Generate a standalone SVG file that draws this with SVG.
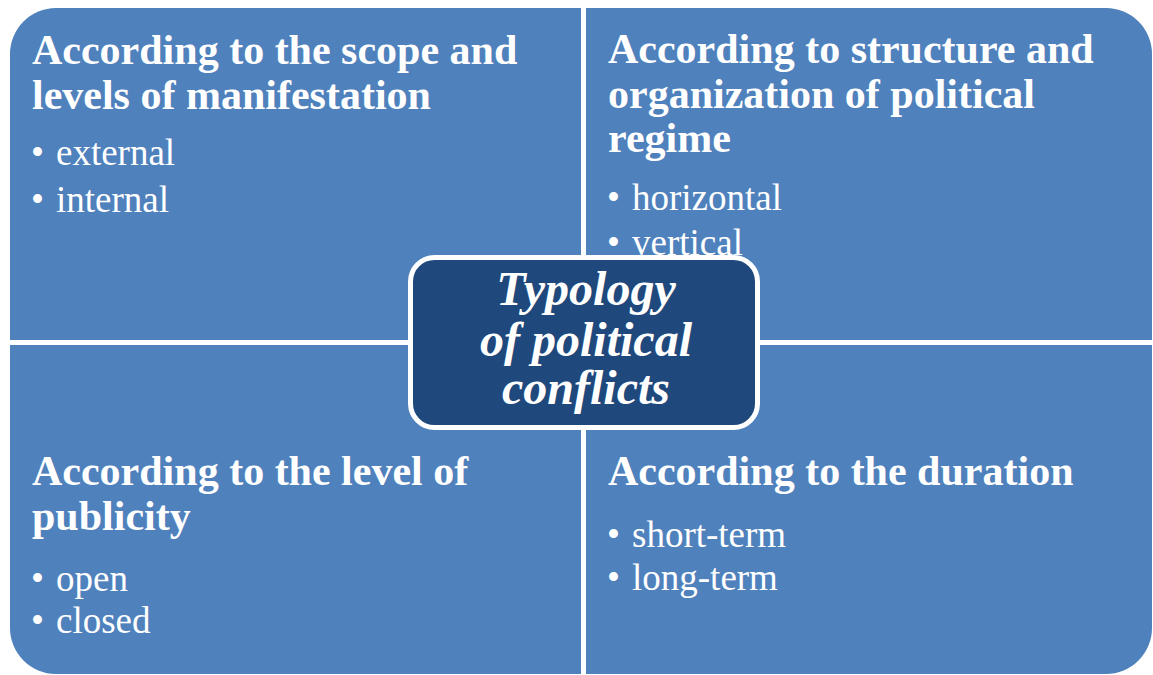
<svg xmlns="http://www.w3.org/2000/svg" width="1153" height="675" viewBox="0 0 1153 675">
<style>
.q{fill:#4F81BD}
.h{font-family:"Liberation Serif","Times New Roman",serif;font-weight:bold;font-size:42px;fill:#fff}
.b{font-family:"Liberation Serif","Times New Roman",serif;font-size:37px;fill:#fff}
.c{font-family:"Liberation Serif","Times New Roman",serif;font-weight:bold;font-style:italic;font-size:48px;fill:#fff;text-anchor:middle}
</style>
<rect width="1153" height="675" fill="#fff"/>
<g id="q-scope">
<path class="q" d="M10 340 V54 A46 46 0 0 1 56 8 H581 V340 Z"/>
<text class="h" x="32" y="64">According to the scope and</text>
<text class="h" x="32" y="109">levels of manifestation</text>
<text class="b" x="31" y="165">•</text><text class="b" x="56" y="165">external</text>
<text class="b" x="31" y="212">•</text><text class="b" x="56" y="212">internal</text>
</g>
<g id="q-structure">
<path class="q" d="M586 8 H1106 A46 46 0 0 1 1152 54 V340 H586 Z"/>
<text class="h" x="608" y="63">According to structure and</text>
<text class="h" x="608" y="108">organization of political</text>
<text class="h" x="608" y="152">regime</text>
<text class="b" x="607" y="210">•</text><text class="b" x="632" y="210">horizontal</text>
<text class="b" x="607" y="255">•</text><text class="b" x="632" y="255">vertical</text>
</g>
<g id="q-publicity">
<path class="q" d="M10 345 H581 V674 H56 A46 46 0 0 1 10 628 Z"/>
<text class="h" x="32" y="485">According to the level of</text>
<text class="h" x="32" y="530">publicity</text>
<text class="b" x="31" y="591">•</text><text class="b" x="56" y="591">open</text>
<text class="b" x="31" y="633">•</text><text class="b" x="56" y="633">closed</text>
</g>
<g id="q-duration">
<path class="q" d="M586 345 H1152 V628 A46 46 0 0 1 1106 674 H586 Z"/>
<text class="h" x="608" y="485">According to the duration</text>
<text class="b" x="607" y="547">•</text><text class="b" x="632" y="547">short-term</text>
<text class="b" x="607" y="590">•</text><text class="b" x="632" y="590">long-term</text>
</g>
<g id="center">
<rect x="410.5" y="257.5" width="347" height="170" rx="24" fill="#1F497D" stroke="#fff" stroke-width="5"/>
<text class="c" x="586" y="305">Typology</text>
<text class="c" x="586" y="356">of political</text>
<text class="c" x="586" y="404">conflicts</text>
</g>
</svg>
